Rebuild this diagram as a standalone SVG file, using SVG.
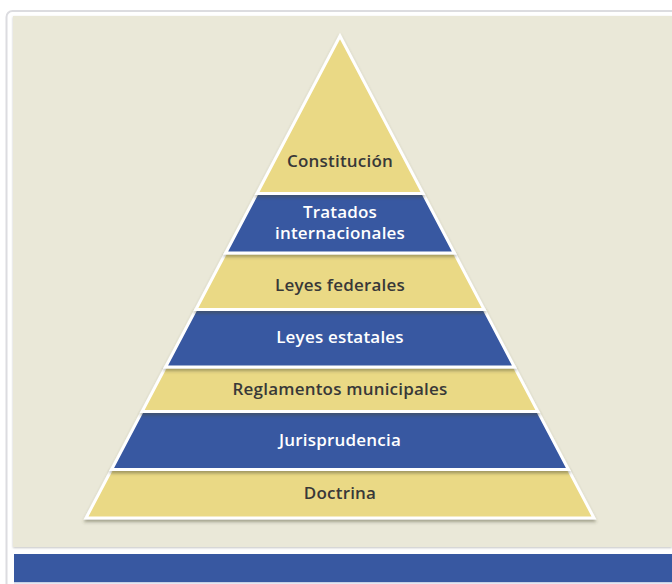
<svg xmlns="http://www.w3.org/2000/svg" width="672" height="584" viewBox="0 0 672 584">
  <defs>
    <filter id="sh" x="-10%" y="-10%" width="120%" height="130%">
      <feDropShadow dx="0" dy="2.5" stdDeviation="1.5" flood-color="#4a4a30" flood-opacity="0.45"/>
    </filter>
    <filter id="fsh" x="-5%" y="-5%" width="110%" height="110%">
      <feDropShadow dx="0" dy="1" stdDeviation="1" flood-color="#888" flood-opacity="0.5"/>
    </filter>
  </defs>
  <style>
    .y { fill: #EAD985; stroke: #ffffff; stroke-width: 3; filter: url(#sh); }
    .b { fill: #3858A1; stroke: #ffffff; stroke-width: 3; filter: url(#sh); }
    .t { font-family: "Open Sans", "Noto Sans", sans-serif; font-weight: 600; font-size: 17px; letter-spacing: 0.2px; text-anchor: middle; }
    .ty { fill: #383838; }
    .tb { fill: #ffffff; }
  </style>
  <rect x="0" y="0" width="672" height="584" fill="#ffffff"/>
  <rect x="6.5" y="11" width="680" height="590" rx="6" fill="#ffffff" stroke="#dcdce0" stroke-width="2"/>
  <rect x="13" y="16" width="659" height="531" fill="#EAE8D8" filter="url(#fsh)"/>
  <rect x="14" y="554" width="658" height="28" fill="#3858A1"/>
  <rect x="14" y="582" width="658" height="1.5" fill="#c8d0e4"/>

  <g id="doctrina">
    <polygon class="y" points="111.56,469.5 568.44,469.5 594,518 86,518"/>
    <text class="t ty" x="340" y="499">Doctrina</text>
  </g>
  <g id="jurisprudencia">
    <polygon class="b" points="142.12,411.5 537.88,411.5 568.44,469.5 111.56,469.5"/>
    <text class="t tb" x="340" y="446">Jurisprudencia</text>
  </g>
  <g id="reglamentos">
    <polygon class="y" points="165.57,367 514.43,367 537.88,411.5 142.12,411.5"/>
    <text class="t ty" x="340" y="395">Reglamentos municipales</text>
  </g>
  <g id="leyes-estatales">
    <polygon class="b" points="195.87,309.5 484.13,309.5 514.43,367 165.57,367"/>
    <text class="t tb" x="340" y="343">Leyes estatales</text>
  </g>
  <g id="leyes-federales">
    <polygon class="y" points="225.65,253 454.35,253 484.13,309.5 195.87,309.5"/>
    <text class="t ty" x="340" y="291">Leyes federales</text>
  </g>
  <g id="tratados">
    <polygon class="b" points="257,193.5 423,193.5 454.35,253 225.65,253"/>
    <text class="t tb" x="340" y="218">Tratados</text>
    <text class="t tb" x="340" y="239">internacionales</text>
  </g>
  <g id="constitucion">
    <polygon class="y" points="340,36 423,193.5 257,193.5"/>
    <text class="t ty" x="340" y="167">Constitución</text>
  </g>
  <g id="connectors"></g>
</svg>
